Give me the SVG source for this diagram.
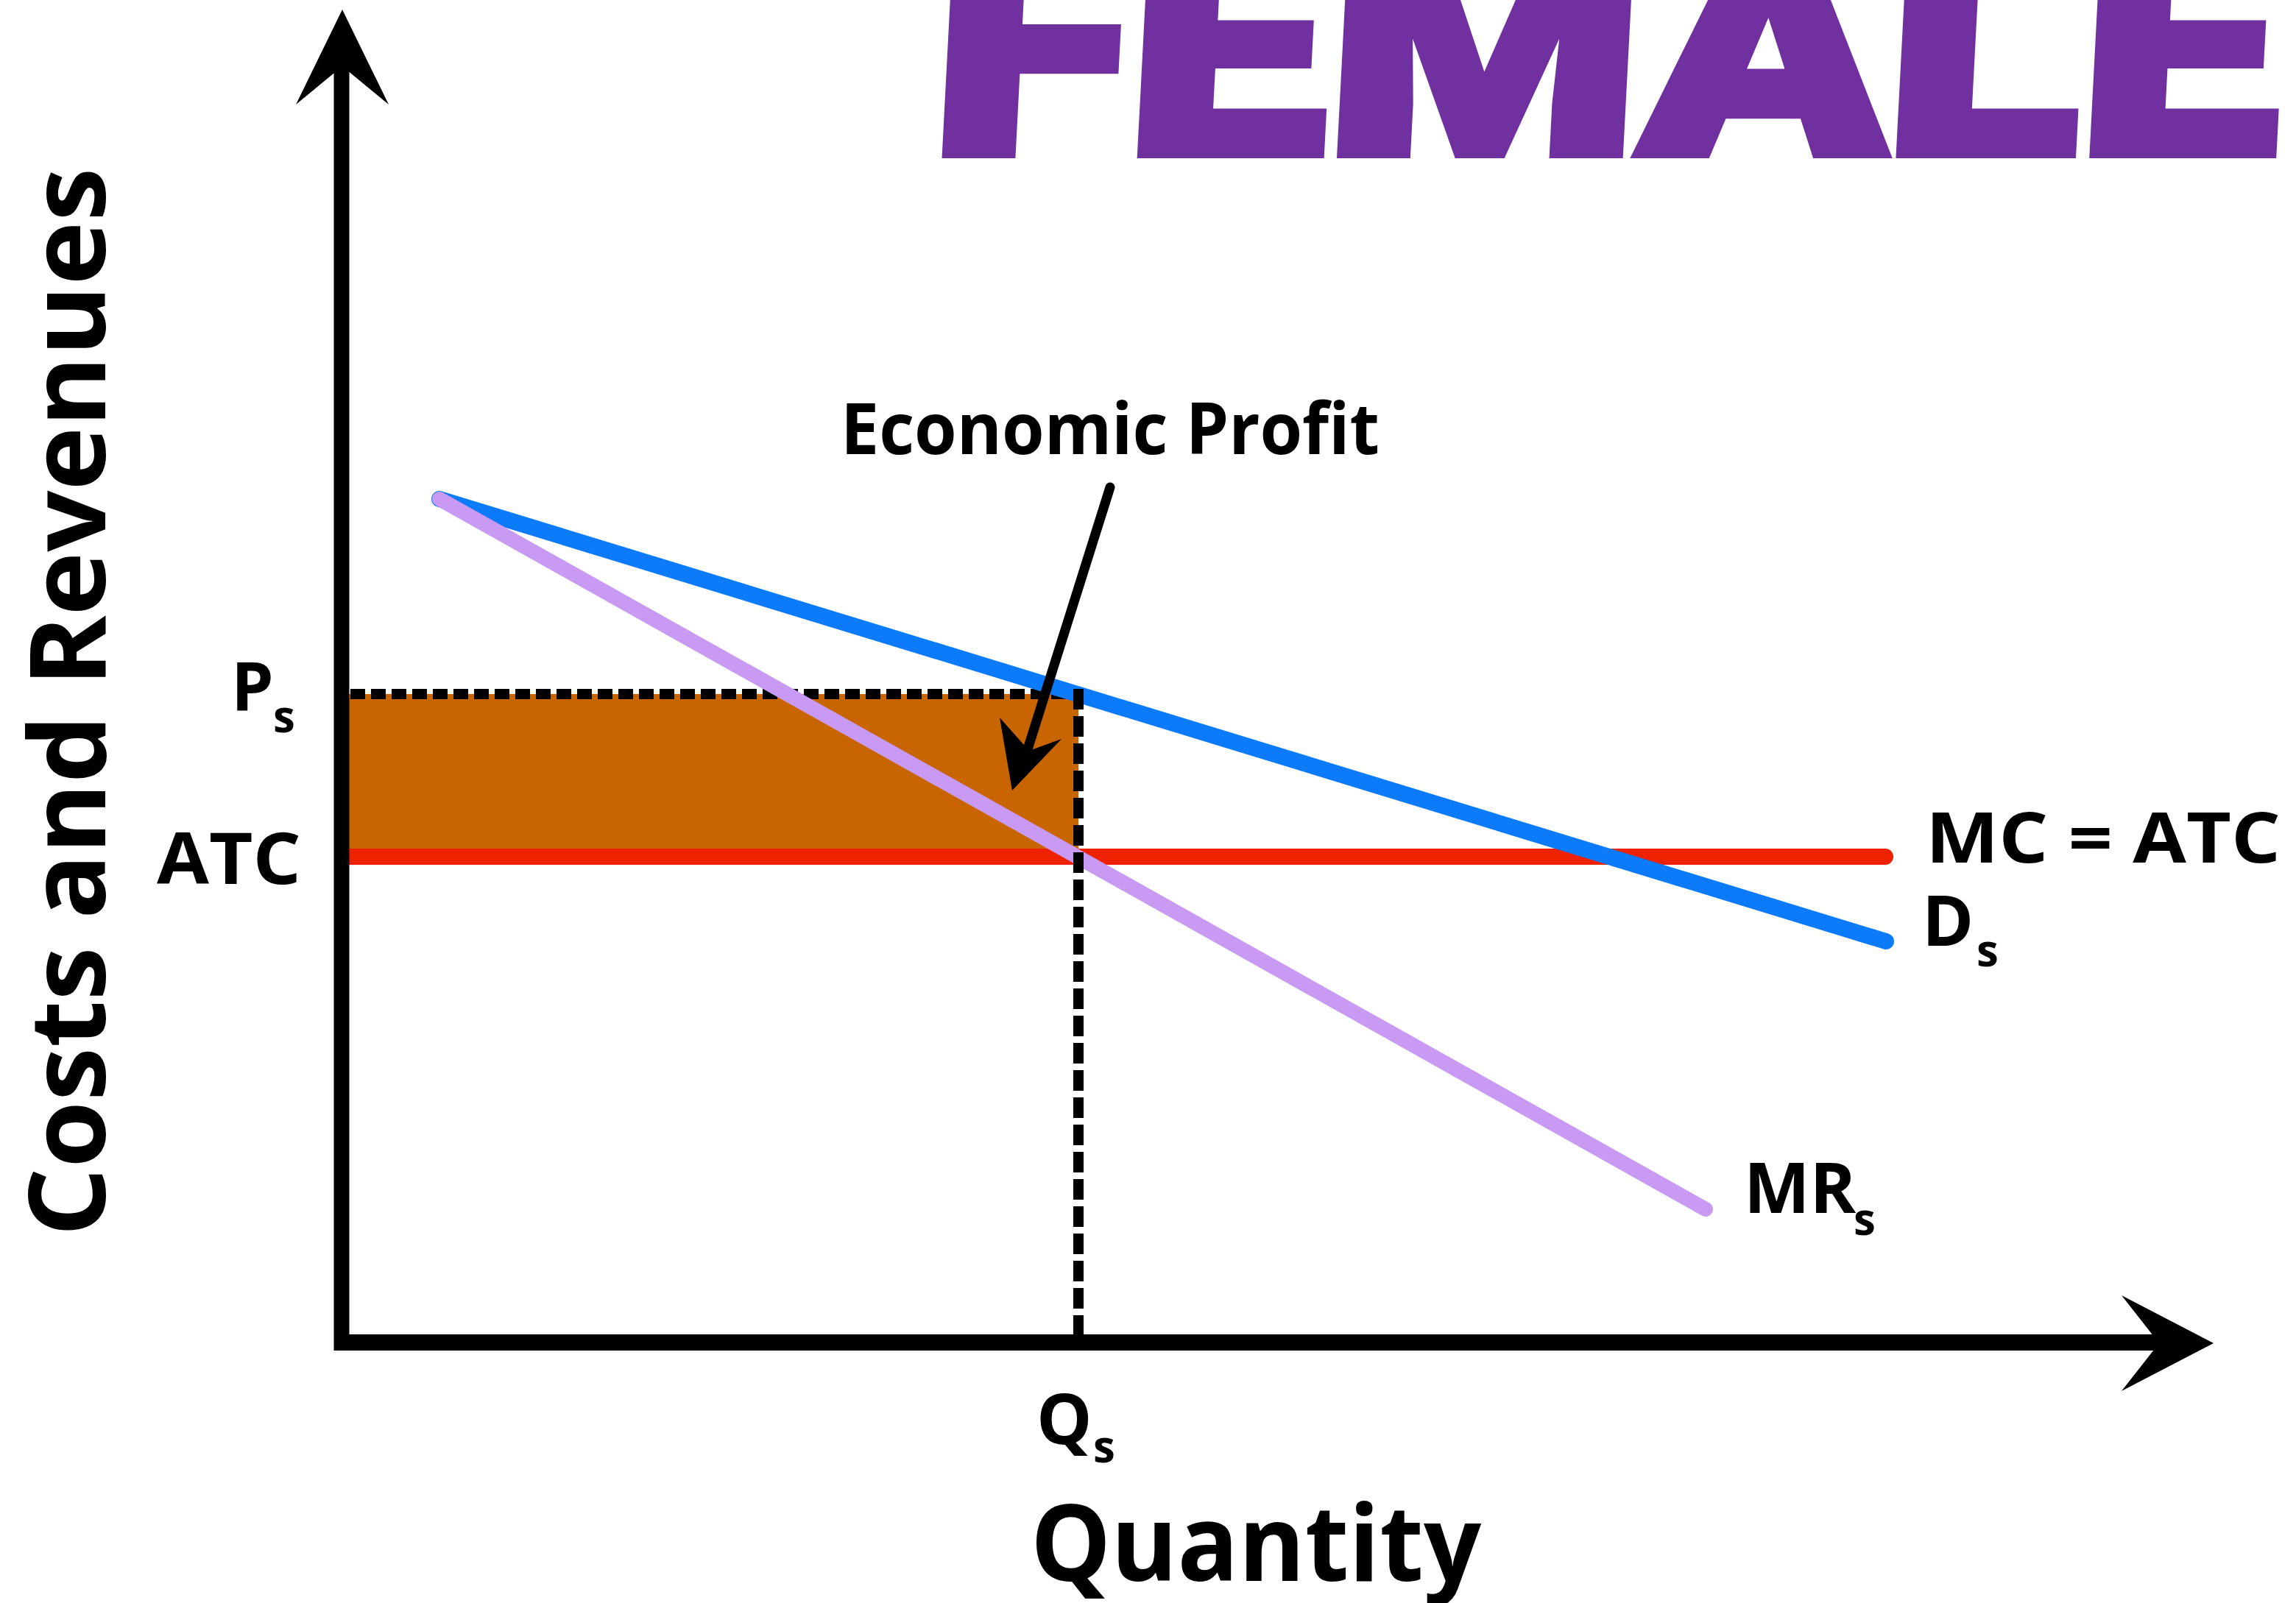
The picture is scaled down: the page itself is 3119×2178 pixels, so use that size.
<svg xmlns="http://www.w3.org/2000/svg" width="3119" height="2178" viewBox="0 0 3119 2178">
  <style>
    .lbl { font-family: "Open Sans", "Liberation Sans", sans-serif; font-weight: 700; fill: #000; }
    .sub { font-size: 60px; }
    .curve { fill: none; stroke-linecap: round; }
  </style>
  <rect width="3119" height="2178" fill="#ffffff"/>

  <g id="title">
    <text transform="translate(0,208) skewX(-3)" x="1262" y="0" font-family="Roboto, 'Open Sans', 'DejaVu Sans', sans-serif" font-weight="900" font-size="405" fill="#7030A0" stroke="#7030A0" stroke-width="14" stroke-linejoin="miter" textLength="1830" lengthAdjust="spacingAndGlyphs">FEMALE</text>
  </g>

  <g id="profit-area">
    <rect x="470" y="943" width="995" height="221" fill="#C96500"/>
  </g>

  <g id="connectors">
    <line id="mc-atc-curve" class="curve" x1="470" y1="1164" x2="2561" y2="1164" stroke="#EE2200" stroke-width="22"/>
    <line id="ps-dash" x1="476" y1="943" x2="1472" y2="943" stroke="#000" stroke-width="14" stroke-dasharray="20 8"/>
    <line id="demand-curve" class="curve" x1="597" y1="678" x2="2562" y2="1279" stroke="#0C7BFB" stroke-width="22"/>
    <line id="mr-curve" class="curve" x1="597" y1="678" x2="2317" y2="1643" stroke="#C89AF3" stroke-width="20"/>
    <line id="qs-dash" x1="1465" y1="936" x2="1465" y2="1824" stroke="#000" stroke-width="14" stroke-dasharray="28 9"/>
    <g id="profit-pointer">
      <line x1="1508" y1="662" x2="1396" y2="1018" stroke="#000" stroke-width="13" stroke-linecap="round"/>
      <polygon points="1375,1074 1358,975 1398,1020 1442,1004" fill="#000"/>
    </g>
    <g id="axes">
      <line x1="464" y1="88" x2="464" y2="1835" stroke="#000" stroke-width="21"/>
      <line x1="454" y1="1824" x2="2940" y2="1824" stroke="#000" stroke-width="22"/>
      <polygon points="465,13 528,142 465,90 402,142" fill="#000"/>
      <polygon points="3007,1825 2882,1760 2933,1825 2882,1890" fill="#000"/>
    </g>
  </g>

  <g id="label-economic-profit">
    <text class="lbl" x="1142" y="617" font-size="96" textLength="732" lengthAdjust="spacingAndGlyphs">Economic Profit</text>
  </g>
  <g id="label-ps">
    <text class="lbl" x="314" y="965" font-size="92">P<tspan class="sub" x="371" y="995">s</tspan></text>
  </g>
  <g id="label-atc">
    <text class="lbl" x="213" y="1201" font-size="97" textLength="196" lengthAdjust="spacingAndGlyphs">ATC</text>
  </g>
  <g id="label-mc-atc">
    <text class="lbl" x="2616" y="1172" font-size="95" textLength="482" lengthAdjust="spacingAndGlyphs">MC = ATC</text>
  </g>
  <g id="label-ds">
    <text class="lbl" x="2611" y="1285" font-size="95">D<tspan class="sub" x="2685" y="1313">s</tspan></text>
  </g>
  <g id="label-mrs">
    <text class="lbl" x="2369" y="1648" font-size="95">MR<tspan class="sub" x="2518" y="1678">s</tspan></text>
  </g>
  <g id="label-qs">
    <text class="lbl" x="1408" y="1962" font-size="95">Q<tspan class="sub" x="1485" y="1987">s</tspan></text>
  </g>
  <g id="label-quantity">
    <text class="lbl" x="1400" y="2148" font-size="144" textLength="612" lengthAdjust="spacingAndGlyphs">Quantity</text>
  </g>
  <g id="label-costs">
    <text class="lbl" transform="translate(143,1680) rotate(-90)" x="0" y="0" font-size="144" textLength="1452" lengthAdjust="spacingAndGlyphs">Costs and Revenues</text>
  </g>
</svg>
